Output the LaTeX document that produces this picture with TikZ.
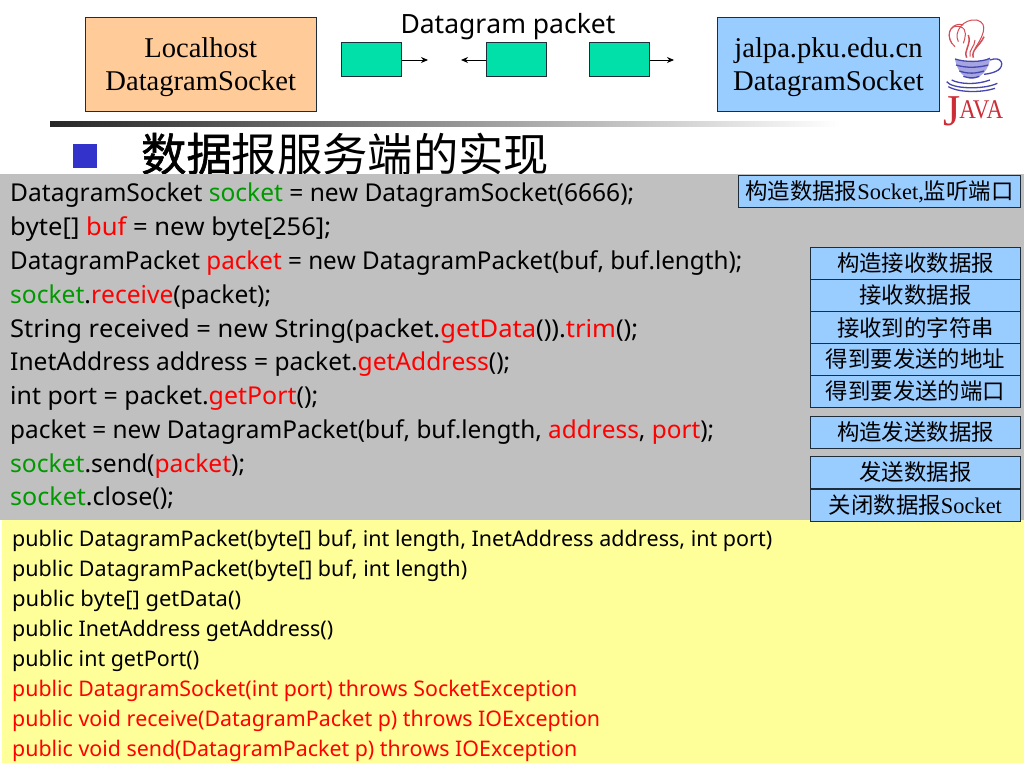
\documentclass[tikz,border=0pt]{standalone}
\usepackage{fontspec}
\setmainfont{Liberation Serif}
\setsansfont[Kerning=Off]{Noto Sans}
\newfontfamily\cjk{Noto Sans CJK SC}
\newfontfamily\cjkheavy[FakeBold=1.3]{Noto Sans CJK SC}
\newcommand{\rd}[1]{\textcolor{codered}{#1}}
\newcommand{\gn}[1]{\textcolor{codegreen}{#1}}
\newcommand{\fitw}[2]{\resizebox{#1pt}{\height}{#2}}
\definecolor{codered}{RGB}{255,0,0}
\definecolor{codegreen}{RGB}{0,153,0}
\definecolor{peach}{RGB}{255,204,153}
\definecolor{sky}{RGB}{153,204,255}
\definecolor{mint}{RGB}{0,224,168}
\definecolor{graybg}{RGB}{192,192,192}
\definecolor{yellowbg}{RGB}{255,255,153}
\definecolor{edge}{RGB}{30,45,60}
\definecolor{bullet}{RGB}{51,51,204}
\definecolor{javared}{RGB}{205,45,55}
\definecolor{javablue}{RGB}{70,70,175}
\definecolor{javapale}{RGB}{165,165,225}
\tikzset{
 host/.style={draw=edge,line width=0.9pt,anchor=north west,align=center,font=\fontsize{28.6}{33}\selectfont,inner sep=0pt},
 pkt/.style={draw=edge,line width=0.7pt,fill=mint,anchor=north west,minimum width=60pt,minimum height=34pt,inner sep=0pt},
 note/.style={draw=edge,line width=0.9pt,fill=sky,anchor=north west,inner sep=0pt,minimum height=32pt,minimum width=210pt,font=\fontsize{22.4}{26}\selectfont\cjk},
 codeline/.style={anchor=base west,inner sep=0pt,font=\fontsize{24.6}{30}\selectfont\sffamily},
 apiline/.style={anchor=base west,inner sep=0pt,font=\fontsize{21.5}{27}\selectfont\sffamily},
 flow/.style={-{Stealth[length=7pt,width=6pt]},line width=0.9pt,black},
 steam/.style={javared!85,line width=1pt},
 cupline/.style={javablue,line width=1.3pt}
}
\usetikzlibrary{arrows.meta}
\begin{document}
\begin{tikzpicture}[x=1pt,y=-1pt]
\useasboundingbox (0,0) rectangle (1024,768);
\fill[white] (0,0) rectangle (1024,768);
% top row
\node[host,fill=peach,minimum width=230.5pt,minimum height=94pt] (local) at (85,17) {\rule{0pt}{26pt}Localhost\\DatagramSocket};
\node[host,fill=sky,minimum width=222pt,minimum height=94pt] (jalpa) at (717,17) {\rule{0pt}{26pt}jalpa.pku.edu.cn\\DatagramSocket};
\node[anchor=base,inner sep=0pt,font=\fontsize{26.5}{32}\selectfont\sffamily] (dgram) at (508,34) {Datagram packet};
\node[pkt] (p1) at (341,42) {};
\node[pkt] (p2) at (486,42) {};
\node[pkt] (p3) at (589,42) {};
\coordinate (a1) at (428,60);
\coordinate (a2) at (461,60);
\coordinate (a3) at (674,60);
\draw[flow] (p1.east |- a1) -- (a1);
\draw[flow] (p2.west |- a2) -- (a2);
\draw[flow] (p3.east |- a3) -- (a3);
% java logo
\begin{scope}[shift={(940,15)},x=0.3333pt,y=-0.3333pt]
\draw[steam] (45,95) .. controls (15,70) and (25,25) .. (60,35) .. controls (85,42) and (75,70) .. (70,85);
\draw[steam] (35,85) .. controls (15,50) and (40,20) .. (70,30);
\draw[steam] (55,80) .. controls (40,50) and (70,10) .. (110,15) .. controls (150,25) and (125,70) .. (105,100);
\draw[steam,line width=1.5pt] (80,128) .. controls (70,105) and (95,90) .. (85,60);
\draw[steam,line width=1.5pt] (100,128) .. controls (92,105) and (120,92) .. (132,65);
\draw[steam] (90,125) .. controls (85,105) and (105,95) .. (105,75);
\fill[javapale] (45,132) .. controls (75,142) and (125,142) .. (150,130) .. controls (148,160) and (125,190) .. (95,192) .. controls (70,190) and (50,165) .. (45,132) -- cycle;
\draw[cupline] (45,132) .. controls (75,142) and (125,142) .. (150,130);
\draw[cupline] (48,150) .. controls (80,160) and (115,158) .. (145,150);
\draw[cupline] (58,168) .. controls (85,178) and (110,175) .. (132,168);
\draw[cupline] (70,184) .. controls (85,190) and (105,190) .. (118,184);
\draw[cupline] (150,135) .. controls (185,122) and (195,150) .. (175,165) .. controls (165,172) and (150,176) .. (132,178);
\draw[cupline] (20,200) .. controls (35,222) and (130,225) .. (172,205);
\draw[cupline] (25,215) .. controls (60,235) and (130,232) .. (165,220);
\draw[cupline] (35,195) .. controls (60,208) and (110,210) .. (150,195);
\end{scope}
\node[anchor=base west,inner sep=0pt,text=javared,font=\fontsize{27}{27}\selectfont] (java) at (943,118) {\raisebox{-7pt}{\fontsize{44}{44}\selectfont J}\kern-1pt\scalebox{0.85}[1]{AVA}};
% rule
\shade[left color=black!85,right color=white,shading angle=90] (50,121) rectangle (840,126);
% title
\fill[bullet] (73,144) rectangle (97,168);
\node[anchor=base west,inner sep=0pt,font=\fontsize{45.3}{50}\selectfont\cjk] (title) at (141,171) {{\cjkheavy 数据}报服务端的实现};
% code panel
\fill[graybg] (0,174) rectangle (1024,520);
\node[codeline] (c1) at (10,201) {\fitw{624}{DatagramSocket \gn{socket} = new DatagramSocket(6666);}};
\node[codeline] (c2) at (10,235) {\fitw{321}{byte[] \rd{buf} = new byte[256];}};
\node[codeline] (c3) at (10,269) {\fitw{732}{DatagramPacket \rd{packet} = new DatagramPacket(buf, buf.length);}};
\node[codeline] (c4) at (10,303) {\fitw{261}{\gn{socket}.\rd{receive}(packet);}};
\node[codeline] (c5) at (10,337) {\fitw{628}{String received = new String(packet.\rd{getData}()).\rd{trim}();}};
\node[codeline] (c6) at (10,370) {\fitw{500}{InetAddress address = packet.\rd{getAddress}();}};
\node[codeline] (c7) at (10,404) {\fitw{308}{int port = packet.\rd{getPort}();}};
\node[codeline] (c8) at (10,438) {\fitw{704}{packet = new DatagramPacket(buf, buf.length, \rd{address}, \rd{port});}};
\node[codeline] (c9) at (10,472) {\fitw{235}{\gn{socket}.send(\rd{packet});}};
\node[codeline] (c10) at (10,505) {\fitw{164}{\gn{socket}.close();}};
% api panel
\fill[yellowbg] (2,520) rectangle (1024,763);
\node[apiline] (y1) at (12,546) {\fitw{760}{public DatagramPacket(byte[] buf, int length, InetAddress address, int port)}};
\node[apiline] (y2) at (12,576) {\fitw{455}{public DatagramPacket(byte[] buf, int length)}};
\node[apiline] (y3) at (12,606) {\fitw{229}{public byte[] getData()}};
\node[apiline] (y4) at (12,636) {\fitw{321}{public InetAddress getAddress()}};
\node[apiline] (y5) at (12,666) {\fitw{187}{public int getPort()}};
\node[apiline,text=codered] (y6) at (12,696) {\fitw{565}{public DatagramSocket(int port) throws SocketException}};
\node[apiline,text=codered] (y7) at (12,726) {\fitw{588}{public void receive(DatagramPacket p) throws IOException}};
\node[apiline,text=codered] (y8) at (12,756) {\fitw{565}{public void send(DatagramPacket p) throws IOException}};
% notes
\node[note,minimum width=282pt] (n0) at (738,175) {构造数据报{\rmfamily Socket,}监听端口};
\node[note] (n1) at (810,247) {构造接收数据报};
\node[note] (n2) at (810,279) {接收数据报};
\node[note] (n3) at (810,311) {接收到的字符串};
\node[note] (n4) at (810,343) {得到要发送的地址};
\node[note] (n5) at (810,375) {得到要发送的端口};
\node[note] (n6) at (810,416) {构造发送数据报};
\node[note] (n7) at (810,456) {发送数据报};
\node[note] (n8) at (810,489) {关闭数据报{\rmfamily Socket}};
\end{tikzpicture}
\end{document}
